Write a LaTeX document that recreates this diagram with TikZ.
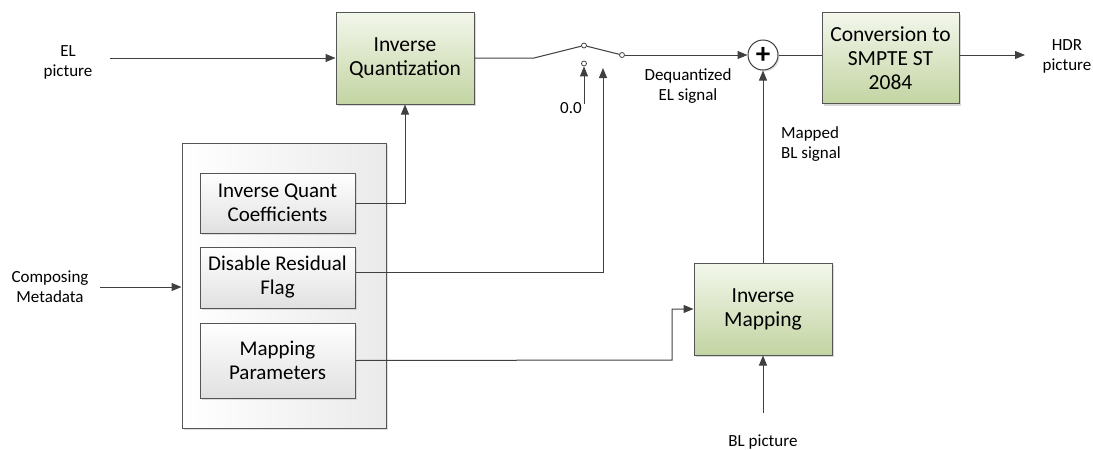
\documentclass[tikz,border=0pt]{standalone}
\usepackage{fontspec}
\setmainfont{Carlito}
\usetikzlibrary{arrows.meta,shadows,calc}
\definecolor{linec}{HTML}{404040}
\definecolor{boxline}{HTML}{555555}
\definecolor{gtop}{HTML}{F3F7EC}
\definecolor{gbot}{HTML}{C3D4A2}
\tikzset{
  conn/.style={draw=linec,line width=1pt},
  arr/.style={conn,-{Triangle[length=10pt,width=8pt]}},
  greenbox/.style={draw=boxline,line width=1pt,top color=gtop,bottom color=gbot,
     drop shadow={shadow xshift=2pt,shadow yshift=-2pt,fill=black!30},
     align=center,font=\fontsize{21.5}{24}\selectfont,inner sep=0pt},
  graybox/.style={draw=boxline,line width=1pt,top color=white,bottom color=black!12,
     drop shadow={shadow xshift=2pt,shadow yshift=-2pt,fill=black!25},
     align=center,font=\fontsize{21}{24}\selectfont,inner sep=0pt,
     minimum width=155pt},
  outerbox/.style={draw=boxline,line width=1pt,left color=white,right color=black!8,
     drop shadow={shadow xshift=2pt,shadow yshift=-2pt,fill=black!25},
     minimum width=204pt,minimum height=285pt,inner sep=0pt},
  lbl/.style={align=center,font=\fontsize{17}{20}\selectfont,inner sep=0pt},
  swc/.style={circle,draw=linec,fill=white,line width=0.8pt,minimum size=5pt,inner sep=0pt},
}
\begin{document}
\begin{tikzpicture}[x=1pt,y=-1pt]
\useasboundingbox (0,0) rectangle (1093,450);
% boxes
\node[outerbox] (outer) at (284,285.5) {};
\node[graybox,minimum height=60pt] (iqc) at (277.5,203) {Inverse Quant\\Coefficients};
\node[graybox,minimum height=61pt] (drf) at (277.5,277.5) {Disable Residual\\Flag};
\node[graybox,minimum height=75pt] (mp) at (277.5,360.5) {Mapping\\Parameters};
\node[greenbox,minimum width=138pt,minimum height=92pt] (iq) at (405,58) {Inverse\\Quantization};
\node[greenbox,minimum width=137pt,minimum height=91pt] (conv) at (890.5,58) {Conversion to\\SMPTE ST\\2084};
\node[greenbox,minimum width=138pt,minimum height=92pt] (im) at (763,309) {Inverse\\Mapping};
\node[circle,draw=linec,fill=white,line width=1pt,minimum size=30pt,inner sep=0pt,
      drop shadow={shadow xshift=1.5pt,shadow yshift=-1.5pt,fill=black!25},
      font=\fontsize{29}{29}\selectfont\bfseries] (plus) at (763,55) {+};
% switch
\node[swc] (sw1) at (584,45.5) {};
\node[swc] (sw2) at (622,55) {};
\node[swc] (sw0) at (584,63.5) {};
\coordinate (bend) at (534,58);
\coordinate (flagin) at (603,68);
% labels
\node[lbl] (el) at (68,62) {EL\\picture};
\node[lbl] (cm) at (50,287) {Composing\\Metadata};
\node[lbl] (zero) at (571,108) {0.0};
\node[lbl] (deq) at (688,86) {Dequantized\\EL signal};
\node[lbl,align=left] (mbl) at (811,144) {Mapped\\BL signal};
\node[lbl] (hdr) at (1067,56) {HDR\\picture};
\node[lbl] (bl) at (763,442) {BL picture};
% connectors
\draw[arr] (110,58) -- (iq.west);
\draw[conn] (iq.east) -- (bend) -- (sw1);
\draw[conn] (sw1) -- (sw2);
\draw[arr] (sw2) -- (plus.west);
\draw[arr] (584,104) -- (sw0.south);
\draw[arr] ($(drf.east)+(0,-5.5)$) -| (flagin);
\draw[arr] (iqc.east) -| (iq.south);
\draw[arr] (mp.east) -- (672,360) |- (im.west);
\draw[arr] (100,287) -- (outer.west |- 0,287);
\draw[conn] (plus.east) -- (plus.east -| conv.west);
\draw[arr] (conv.east |- plus) -- (1025,55);
\draw[arr] (im.north) -- (plus.south);
\draw[arr] (763,413) -- (im.south);
\end{tikzpicture}
\end{document}
